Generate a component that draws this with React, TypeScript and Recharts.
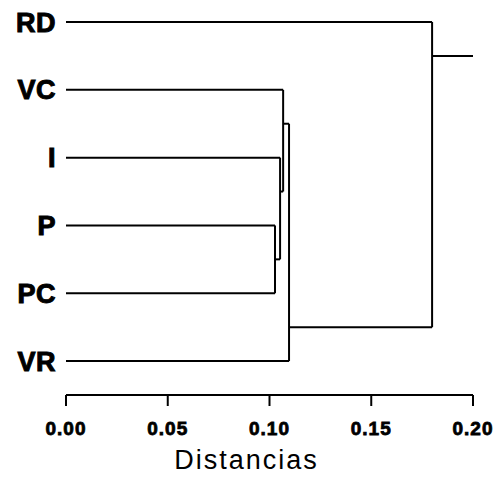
import { ComposedChart, Line, XAxis, YAxis, Label } from "recharts";

// leaves from top to bottom
const leaves = ["RD", "VC", "I", "P", "PC", "VR"];

// merge steps: node ids 0-5 are leaves, each merge creates node 6, 7, ...
const mergeLeft = [3, 2, 1, 8, 0];
const mergeRight = [4, 6, 7, 5, 9];
const mergeHeight = [0.1027, 0.1052, 0.1067, 0.1096, 0.1799];
const mergePos = [3.5, 2.5, 1.5, 4.5, 0.5];

const distTicks = [0, 0.05, 0.1, 0.15, 0.2];
const axisMax = 0.2;

type Pt = { x: number; y: number };

function buildSegments(): Pt[][] {
  const height: number[] = leaves.map(() => 0);
  const pos: number[] = leaves.map((_, i) => i);
  const segs: Pt[][] = [];
  mergeHeight.forEach((h, k) => {
    const a = mergeLeft[k];
    const b = mergeRight[k];
    segs.push([{ x: height[a], y: pos[a] }, { x: h, y: pos[a] }]);
    segs.push([{ x: height[b], y: pos[b] }, { x: h, y: pos[b] }]);
    segs.push([{ x: h, y: pos[a] }, { x: h, y: pos[b] }]);
    height.push(h);
    pos.push(mergePos[k]);
  });
  const root = height.length - 1;
  segs.push([{ x: height[root], y: pos[root] }, { x: axisMax, y: pos[root] }]);
  return segs;
}

const segments = buildSegments();
const font = "'Liberation Sans', Arial, sans-serif";

export default function App() {
  return (
    <div style={{ position: "absolute", left: 0, top: 0, background: "#fff" }}>
      <ComposedChart width={494} height={480} margin={{ top: 22, right: 21, bottom: 5, left: 0 }}>
        <XAxis
          type="number"
          dataKey="x"
          domain={[0, axisMax]}
          ticks={distTicks}
          tickFormatter={(v: number) => v.toFixed(2)}
          allowDataOverflow
          stroke="#000"
          strokeWidth={2}
          tickSize={11}
          tickMargin={16}
          height={80}
          tick={{
            fill: "#000",
            stroke: "#000",
            strokeWidth: 0.8,
            fontSize: 19,
            fontWeight: 700,
            fontFamily: font,
            letterSpacing: 1,
          }}
        >
          <Label
            value="Distancias"
            position="insideBottom"
            offset={6}
            dx={-23}
            fill="#000"
            fontSize={27}
            fontFamily={font}
            letterSpacing={2}
          />
        </XAxis>
        <YAxis
          type="number"
          dataKey="y"
          domain={[0, 5.5]}
          reversed
          ticks={leaves.map((_, i) => i)}
          tickFormatter={(v: number) => leaves[v] ?? ""}
          axisLine={false}
          tickLine={false}
          tickSize={6}
          tickMargin={4}
          width={66}
          tick={{
            fill: "#000",
            stroke: "#000",
            strokeWidth: 1,
            fontSize: 27,
            fontWeight: 900,
            fontFamily: font,
            letterSpacing: 0.5,
          }}
        />
        {segments.map((seg, i) => (
          <Line
            key={i}
            data={seg}
            dataKey="y"
            type="linear"
            stroke="#000"
            strokeWidth={2}
            dot={false}
            activeDot={false}
            isAnimationActive={false}
          />
        ))}
      </ComposedChart>
    </div>
  );
}
